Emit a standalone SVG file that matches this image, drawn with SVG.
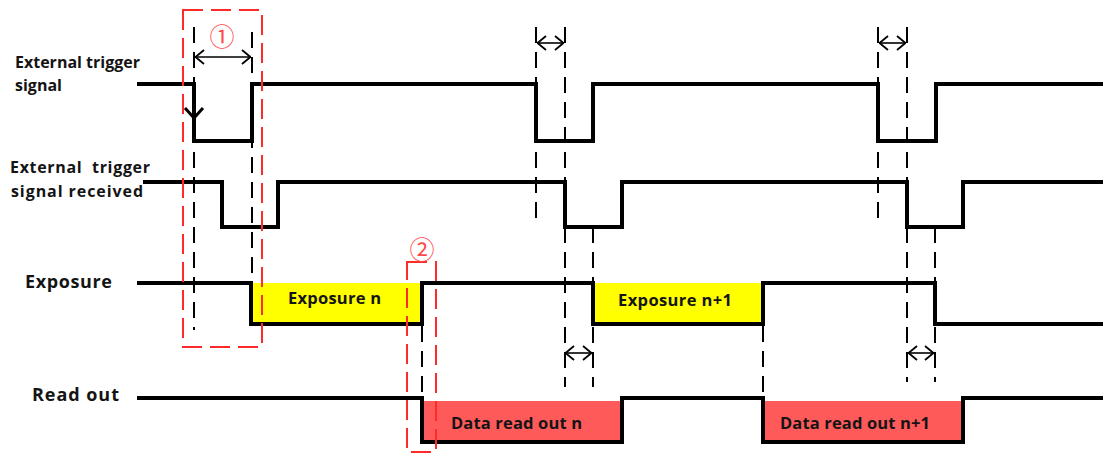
<svg xmlns="http://www.w3.org/2000/svg" width="1103" height="453" viewBox="0 0 1103 453">
<style>
.lbl{font-family:"Open Sans","Noto Sans","Liberation Sans",sans-serif;font-weight:bold;fill:#141414}
.sig{fill:none;stroke:#000;stroke-width:4;stroke-linejoin:miter;stroke-linecap:butt}
.dash{fill:none;stroke:#000;stroke-width:2;stroke-dasharray:16 9}
.red{fill:none;stroke:#ff2a2a;stroke-width:2;stroke-dasharray:20 8}
.dim{fill:none;stroke:#000;stroke-width:1.6}
.num{font-family:"Noto Sans CJK SC","DejaVu Sans",sans-serif;fill:#ff4a4a;font-size:25px}
</style>
<defs>
<marker id="ah" viewBox="0 0 10 16" refX="10" refY="8" markerWidth="10" markerHeight="16" markerUnits="userSpaceOnUse" orient="auto-start-reverse">
<path d="M1,1 L9.5,8 L1,15" fill="none" stroke="#000" stroke-width="1.8"/>
</marker>
</defs>
<rect width="1103" height="453" fill="#fff"/>

<g id="labels">
<text class="lbl" x="15" y="68" font-size="16" textLength="125">External trigger</text>
<text class="lbl" x="15" y="91" font-size="16" textLength="47">signal</text>
<text class="lbl" x="10" y="173" font-size="16" textLength="140" xml:space="preserve">External  trigger</text>
<text class="lbl" x="11" y="197" font-size="16" textLength="132">signal received</text>
<text class="lbl" x="25" y="288" font-size="18" textLength="87">Exposure</text>
<text class="lbl" x="32" y="401" font-size="18" textLength="87">Read out</text>
</g>

<g id="fills">
<rect x="251" y="283" width="171" height="41" fill="#ffff00"/>
<rect x="593" y="283" width="170" height="41" fill="#ffff00"/>
<rect x="422" y="401" width="200" height="41" fill="#ff5a5a"/>
<rect x="763" y="401" width="200" height="41" fill="#ff5a5a"/>
</g>

<g id="signals">
<path id="ext-trigger" class="sig" d="M137,84 H194 V141 H252 V84 H536 V141 H593 V84 H878 V141 H936 V84 H1103"/>
<path id="trigger-received" class="sig" d="M143,182 H222 V227 H278 V182 H565 V227 H622 V182 H907 V227 H963 V182 H1103"/>
<path id="exposure" class="sig" d="M137,283 H251 V324 H422 V283 H593 V324 H763 V283 H935 V324 H1103"/>
<path id="readout" class="sig" d="M137,398 H422 V442 H622 V398 H763 V442 H963 V398 H1103"/>
</g>

<g id="box-texts">
<text class="lbl" x="288" y="304" font-size="16.5" textLength="93">Exposure n</text>
<text class="lbl" x="618" y="306" font-size="16.5" textLength="114">Exposure n+1</text>
<text class="lbl" x="451" y="429" font-size="16.5" textLength="131">Data read out n</text>
<text class="lbl" x="780" y="429" font-size="16.5" textLength="150">Data read out n+1</text>
</g>

<g id="connectors">
<line class="dash" x1="194" y1="27" x2="194" y2="330"/>
<line class="dash" x1="252" y1="32" x2="252" y2="283"/>
<line class="dash" x1="536" y1="27" x2="536" y2="220"/>
<line class="dash" x1="565" y1="27" x2="565" y2="387"/>
<line class="dash" x1="593" y1="227" x2="593" y2="387"/>
<line class="dash" x1="878" y1="27" x2="878" y2="220"/>
<line class="dash" x1="907" y1="27" x2="907" y2="382"/>
<line class="dash" x1="935" y1="227" x2="935" y2="382"/>
<line class="dash" x1="422" y1="326" x2="422" y2="398"/>
<line class="dash" x1="763" y1="326" x2="763" y2="398"/>
<line class="dim" x1="195" y1="57" x2="251" y2="57" marker-start="url(#ah)" marker-end="url(#ah)"/>
<line class="dim" x1="537" y1="43" x2="564" y2="43" marker-start="url(#ah)" marker-end="url(#ah)"/>
<line class="dim" x1="879" y1="43" x2="906" y2="43" marker-start="url(#ah)" marker-end="url(#ah)"/>
<line class="dim" x1="565" y1="353" x2="592" y2="353" marker-start="url(#ah)" marker-end="url(#ah)"/>
<line class="dim" x1="908" y1="353" x2="934" y2="353" marker-start="url(#ah)" marker-end="url(#ah)"/>
<path d="M185,108 L194,118 L203,108" fill="none" stroke="#000" stroke-width="3"/>
</g>

<g id="region-1">
<rect class="red" x="183" y="10" width="79" height="337"/>
<text class="num" x="222" y="46" text-anchor="middle">①</text>
</g>
<g id="region-2">
<rect class="red" x="407" y="262" width="29" height="190"/>
<text class="num" x="422" y="259" text-anchor="middle">②</text>
</g>
</svg>
